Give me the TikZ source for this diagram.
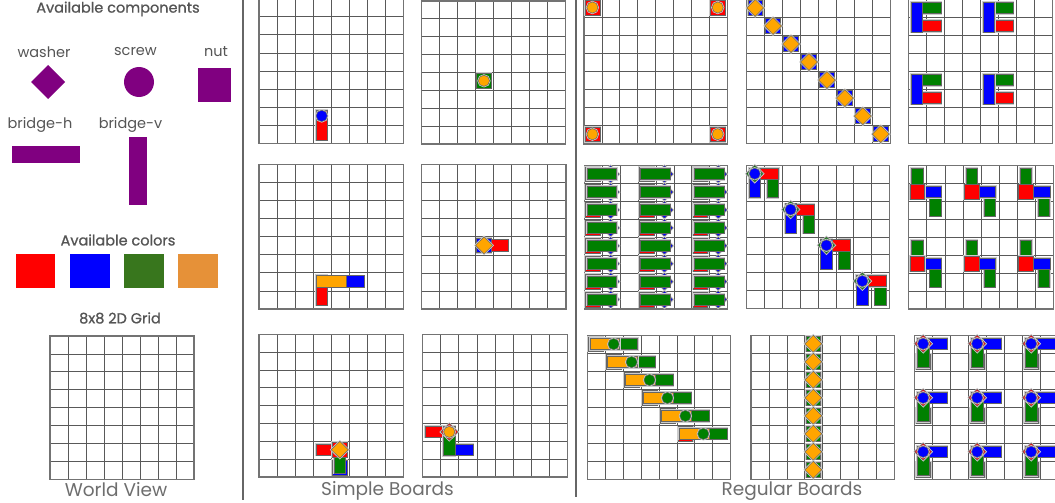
\documentclass[tikz,border=0pt]{standalone}
\usepackage{fontspec}
\setmainfont{Poppins}
\newfontfamily\medfont{Poppins}[FakeBold=0.9]
\definecolor{txt}{HTML}{555555}
\definecolor{cred}{HTML}{FF0000}
\definecolor{cblue}{HTML}{0000FF}
\definecolor{cgreen}{HTML}{38761D}
\definecolor{corange}{HTML}{E69138}
\definecolor{cpurple}{HTML}{800080}
\definecolor{pred}{HTML}{FF0000}
\definecolor{pblue}{HTML}{0000FF}
\definecolor{pgreen}{HTML}{008000}
\definecolor{porange}{HTML}{FFA500}
\tikzset{
  lab/.style={text=txt, inner sep=0pt, font=\fontsize{14.5}{16}\selectfont},
  ttl/.style={text=txt, inner sep=0pt, font=\medfont\fontsize{14.5}{16}\selectfont},
  big/.style={text=txt!85, inner sep=0pt, font=\fontsize{18.5}{20}\selectfont},
  gridl/.style={draw=black!65, line width=0.8pt},
  gridb/.style={draw=black!55, line width=1.4pt},
  piece/.style={fill=#1, draw=black!60, line width=0.5pt, preaction={draw=black!20, line width=2pt}},
  divider/.style={draw=black!60, line width=1.2pt}
}
\newcommand\gridbd{%
  \foreach \i in {1,...,7}{\draw[gridl] (\i,0) -- (\i,8); \draw[gridl] (0,\i) -- (8,\i);}
  \draw[gridb] (0,0) rectangle (8,8);}
\newcommand\pNut[3]{\path[piece=#1] (#2+0.06,#3+0.06) rectangle (#2+0.88,#3+0.88);}
\newcommand\pScrew[3]{\path[piece=#1] (#2+0.47,#3+0.47) circle[radius=0.31];}
\newcommand\pWasher[3]{\path[piece=#1] (#2+0.47,#3) -- (#2+0.94,#3+0.47) -- (#2+0.47,#3+0.94) -- (#2,#3+0.47) -- cycle;}
\newcommand\pBH[3]{\path[piece=#1] (#2+0.14,#3+0.15) rectangle (#2+1.8,#3+0.78);}
\newcommand\pBV[3]{\path[piece=#1] (#2+0.15,#3+0.14) rectangle (#2+0.78,#3+1.8);}
\begin{document}
\begin{tikzpicture}[x=1pt,y=-1pt]
\useasboundingbox (0,0) rectangle (1055,503);
\clip (0,0) rectangle (1055,503);
\fill[white] (0,0) rectangle (1055,503);
% ---------- left panel ----------
\node[ttl] (tcomp) at (118,9) {Available components};
\node[lab] (twasher) at (44,52) {washer};
\node[lab] (tscrew) at (135.5,52) {screw};
\node[lab] (tnut) at (216,52) {nut};
\fill[cpurple] (48,65) -- (65,82) -- (48,99) -- (31,82) -- cycle;
\fill[cpurple] (139,82) circle[radius=15];
\fill[cpurple] (198,68) rectangle (231,102);
\node[lab] (tbh) at (40,125) {bridge-h};
\node[lab] (tbv) at (130.5,125) {bridge-v};
\fill[cpurple] (12,146) rectangle (80,163);
\fill[cpurple] (129,137) rectangle (147,205);
\node[ttl] (tcol) at (118,240) {Available colors};
\fill[cred] (16,254) rectangle (55,288);
\fill[cblue] (70,254) rectangle (110,288);
\fill[cgreen] (124,254) rectangle (164,288);
\fill[corange] (178,254) rectangle (218,288);
\node[ttl] (tgrid) at (120,318) {8x8 2D Grid};
\begin{scope}[shift={(50,336)},x=18pt,y=-17.9pt]\gridbd\end{scope}
\node[big] (tworld) at (116,490) {World View};
\draw[divider] (243,0) -- (243,500);
\draw[divider] (576,0) -- (576,497);
% ---------- simple boards ----------
\begin{scope}[shift={(259,-1.5)},x=18.08pt,y=-18.15pt]\gridbd
  \pBV{pred}{3}{6}\pScrew{pblue}{3}{6}
\end{scope}
\begin{scope}[shift={(421.3,1)},x=18.05pt,y=-17.85pt]\gridbd
  \pNut{pgreen}{3}{4}\pScrew{porange}{3}{4}
\end{scope}
\begin{scope}[shift={(259,164.3)},x=18.08pt,y=-18.09pt]\gridbd
  \pBH{pblue}{4}{6}\pBV{pred}{3}{6}\pBH{porange}{3}{6}
\end{scope}
\begin{scope}[shift={(421.3,164.7)},x=18.08pt,y=-18.04pt]\gridbd
  \pBH{pred}{3}{4}\pNut{pblue}{3}{4}\pWasher{porange}{3}{4}
\end{scope}
\begin{scope}[shift={(259,334.3)},x=18.08pt,y=-17.84pt]\gridbd
  \pBH{pred}{3}{6}\pNut{pblue}{4}{7}\pBV{pgreen}{4}{6}\pNut{pred}{4}{6}\pWasher{porange}{4}{6}
\end{scope}
\begin{scope}[shift={(422.7,334.3)},x=18.08pt,y=-17.84pt]\gridbd
  \pBH{pred}{0}{5}\pBH{pblue}{1}{6}\pBV{pgreen}{1}{5}\pWasher{pred}{1}{5}\pScrew{porange}{1}{5}
\end{scope}
\node[big] (tsimple) at (387.5,491) {Simple Boards};
% ---------- regular boards ----------
\begin{scope}[shift={(584,-1)},x=17.9pt,y=-18.1pt]\gridbd
  \foreach \c/\r in {0/0,7/0,0/7,7/7}{\pNut{pred}{\c}{\r}\pScrew{porange}{\c}{\r}}
\end{scope}
\begin{scope}[shift={(746.7,-0.5)},x=17.95pt,y=-18.02pt]\gridbd
  \foreach \i in {0,...,7}{\pNut{pblue}{\i}{\i}\pWasher{porange}{\i}{\i}}
\end{scope}
\begin{scope}[shift={(908.3,-0.3)},x=18.05pt,y=-18pt]\gridbd
  \foreach \c/\r in {0/0,4/0,0/4,4/4}{\pBH{pgreen}{\c}{\r}\pBH{pred}{\c}{\r+1}\pBV{pblue}{\c}{\r}}
\end{scope}
\begin{scope}[shift={(584.3,165.7)},x=17.93pt,y=-17.91pt]\gridbd
  \foreach \r in {0,...,7}{\foreach \c in {0,3,6}{\pNut{pred}{\c}{\r}\pWasher{pblue}{\c+1}{\r}\pBH{pgreen}{\c}{\r}}}
\end{scope}
\begin{scope}[shift={(746.3,165.3)},x=17.93pt,y=-17.9pt]\gridbd
  \foreach \i in {0,2,4,6}{\pBV{pgreen}{\i+1}{\i}\pBH{pred}{\i}{\i}\pBV{pblue}{\i}{\i}\pWasher{pgreen}{\i}{\i}\pScrew{pblue}{\i}{\i}}
\end{scope}
\begin{scope}[shift={(908.7,165.7)},x=18.12pt,y=-17.9pt]\gridbd
  \foreach \c in {0,3,6}{\foreach \r in {0,4}{\pBV{pgreen}{\c}{\r}\pBV{pgreen}{\c+1}{\r+1}\pBH{pblue}{\c}{\r+1}\pNut{pred}{\c}{\r+1}}}
\end{scope}
\begin{scope}[shift={(587.3,335.7)},x=17.93pt,y=-17.95pt]\gridbd
  \foreach \i in {0,...,5}{\pNut{pred}{\i}{\i}\pBH{pgreen}{\i+1}{\i}\pBH{porange}{\i}{\i}\pScrew{pgreen}{\i+1}{\i}}
\end{scope}
\begin{scope}[shift={(751,335.3)},x=17.96pt,y=-18pt]\gridbd
  \foreach \r in {0,...,7}{\pNut{pgreen}{3}{\r}\pWasher{porange}{3}{\r}}
\end{scope}
\begin{scope}[shift={(914.7,335.3)},x=18pt,y=-18pt]\gridbd
  \foreach \c in {0,3,6}{\foreach \r in {0,3,6}{\pBH{pblue}{\c}{\r}\pNut{pblue}{\c}{\r+1}\pBV{pgreen}{\c}{\r}\pWasher{pred}{\c}{\r}\pScrew{pblue}{\c}{\r}}}
\end{scope}
\node[big] (tregular) at (792,491) {Regular Boards};
\end{tikzpicture}
\end{document}
